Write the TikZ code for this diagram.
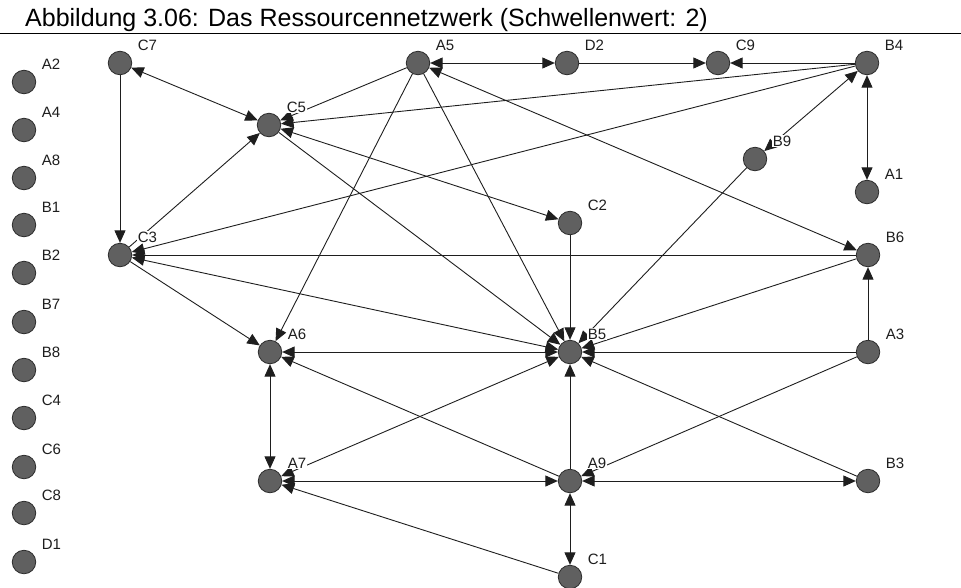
\documentclass[tikz,border=0pt]{standalone}
\usepackage{fontspec}
\setmainfont{Liberation Sans}
\usetikzlibrary{arrows.meta}
\definecolor{vfill}{RGB}{96,96,96}
\definecolor{vline}{RGB}{45,45,45}
\definecolor{ink}{RGB}{30,30,30}

\begin{document}
\begin{tikzpicture}[x=1pt,y=-1pt,
  vtx/.style={circle, draw=vline, fill=vfill, minimum size=23.5pt, inner sep=0pt, line width=0.8pt},
  lbl/.style={anchor=base west, font=\fontsize{15}{15}\selectfont, fill=white, inner sep=0.6pt, text=ink},
  link/.style={line width=0.9pt, draw=ink, -{Triangle[length=12.5pt,width=11pt]}},
  both/.style={line width=0.9pt, draw=ink, {Triangle[length=12.5pt,width=11pt]}-{Triangle[length=12.5pt,width=11pt]}}
]
\useasboundingbox (0,0) rectangle (961,587);

% heading
\node[anchor=base west, inner sep=0pt, font=\fontsize{25}{25}\selectfont, text=black]
  (title) at (25,26.5) {Abbildung 3.06: Das Ressourcennetzwerk (Schwellenwert: 2)};
\draw[line width=1pt] (0,33) -- (961,33);

% actors
\foreach \n/\x/\y in {
  A2/24/82, A4/24/130, A8/24/178, B1/24/225, B2/24/273, B7/24/322,
  B8/24/370, C4/24/418, C6/24/467, C8/24/513, D1/24/562,
  C7/120/63, A5/418/63, D2/567/63, C9/718/63, B4/867/63,
  C5/269/125, B9/755/159, A1/867/192, C2/570/223,
  C3/120/255, B6/868/255,
  A6/270/352, B5/570/352, A3/868/352,
  A7/270/481, A9/570/481, B3/868/481,
  C1/570/577}
  {\node[vtx] (\n) at (\x,\y) {};}

% one-way ties
\foreach \s/\t in {
  C7/C3, C3/C5, A5/C5, A5/A6, A5/B5, D2/C9, B4/C9, B4/C5, B4/C3,
  C5/B5, C2/B5, B6/C3, B6/B5, A3/B6, A3/B5, A3/A9, B3/B5, B9/B5,
  A9/B5, A9/A6, C1/A7, C3/A6}
  {\draw[link] (\s) -- (\t);}

% reciprocal ties
\foreach \s/\t in {
  C7/C5, A5/D2, A5/B6, B4/B9, B4/A1, C5/C2, C3/B5, A6/B5, A6/A7,
  A7/B5, A7/A9, A9/B3, A9/C1}
  {\draw[both] (\s) -- (\t);}

% labels on top of the ties
\foreach \n/\x/\y in {
  A2/24/82, A4/24/130, A8/24/178, B1/24/225, B2/24/273, B7/24/322,
  B8/24/370, C4/24/418, C6/24/467, C8/24/513, D1/24/562,
  C7/120/63, A5/418/63, D2/567/63, C9/718/63, B4/867/63,
  C5/269/125, B9/755/159, A1/867/192, C2/570/223,
  C3/120/255, B6/868/255,
  A6/270/352, B5/570/352, A3/868/352,
  A7/270/481, A9/570/481, B3/868/481,
  C1/570/577}
  {\node[lbl] (lab\n) at (\x+17,\y-13) {\n};}
\end{tikzpicture}
\end{document}
